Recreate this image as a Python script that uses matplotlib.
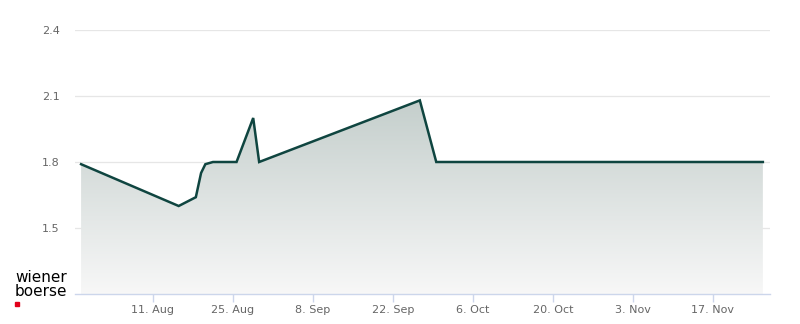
import numpy as np
import pandas as pd
import matplotlib
matplotlib.use("Agg")
from matplotlib import pyplot as plt
import matplotlib.dates as mdates

# price series
dates = ["2025-07-29 10:00", "2025-08-15 12:00", "2025-08-18 12:00",
         "2025-08-19 10:00", "2025-08-20 04:00", "2025-08-21 12:00",
         "2025-08-25 15:00", "2025-08-28 13:00", "2025-08-29 14:00",
         "2025-09-26 17:00", "2025-09-29 14:00", "2025-11-25 18:00"]
prices = [1.79, 1.60, 1.64, 1.75, 1.79, 1.80, 1.80, 2.00, 1.80, 2.08, 1.80, 1.80]

y_ticks = [1.5, 1.8, 2.1, 2.4]
x_ticks = ["2025-08-11", "2025-08-25", "2025-09-08", "2025-09-22",
           "2025-10-06", "2025-10-20", "2025-11-03", "2025-11-17"]

x = mdates.date2num(pd.to_datetime(dates))
xt = mdates.date2num(pd.to_datetime(x_ticks))
x0 = mdates.date2num(pd.Timestamp("2025-07-28 08:24"))
x1 = mdates.date2num(pd.Timestamp("2025-11-27 00:00"))
ymin, ymax = 1.2, 2.4

fig = plt.figure(figsize=(8, 3.24), dpi=100)
ax = fig.add_axes([75 / 800, 1 - 294 / 324, 695 / 800, 264 / 324])
ax.set_xlim(x0, x1)
ax.set_ylim(ymin, ymax)

# gradient fill under the line
grad = np.linspace(0, 1, 256).reshape(-1, 1)
c_top = np.array([0.77, 0.81, 0.80])
c_bot = np.array([0.97, 0.97, 0.97])
img = (c_bot + (c_top - c_bot) * grad).reshape(256, 1, 3)
top = max(prices)
im = ax.imshow(img, extent=[x0, x1, ymin, top], origin="lower",
               aspect="auto", zorder=1)
poly = ax.fill_between(x, prices, ymin, color="none")
path = poly.get_paths()[0]
im.set_clip_path(path, transform=ax.transData)

ax.plot(x, prices, color="#0f4540", lw=1.8, zorder=3, solid_joinstyle="miter")

for yv in y_ticks:
    ax.axhline(yv, color="#e6e6e6", lw=0.9, zorder=0)

for s in ["top", "right", "left"]:
    ax.spines[s].set_visible(False)
ax.spines["bottom"].set_color("#ccd6eb")
ax.spines["bottom"].set_linewidth(1)

ax.set_yticks(y_ticks)
ax.set_yticklabels([f"{v:.1f}" for v in y_ticks])
ax.tick_params(axis="y", length=0, pad=11, labelsize=8, labelcolor="#666666")
ax.set_xticks(xt)
ax.set_xticklabels([pd.Timestamp(d).strftime("%-d. %b") for d in x_ticks])
ax.tick_params(axis="x", length=6, color="#ccd6eb", width=1, pad=2,
               labelsize=8, labelcolor="#666666")

fig.text(15 / 800, 1 - 277 / 324, "wiener", fontsize=11, color="black",
         va="center", ha="left")
fig.text(15 / 800, 1 - 292 / 324, "boerse", fontsize=11, color="black",
         va="center", ha="left")
fig.patches.append(plt.Rectangle((15 / 800, 1 - 306 / 324), 4 / 800, 4 / 324,
                                 transform=fig.transFigure, color="#e2001a"))

fig.savefig("out.png", dpi=100)
